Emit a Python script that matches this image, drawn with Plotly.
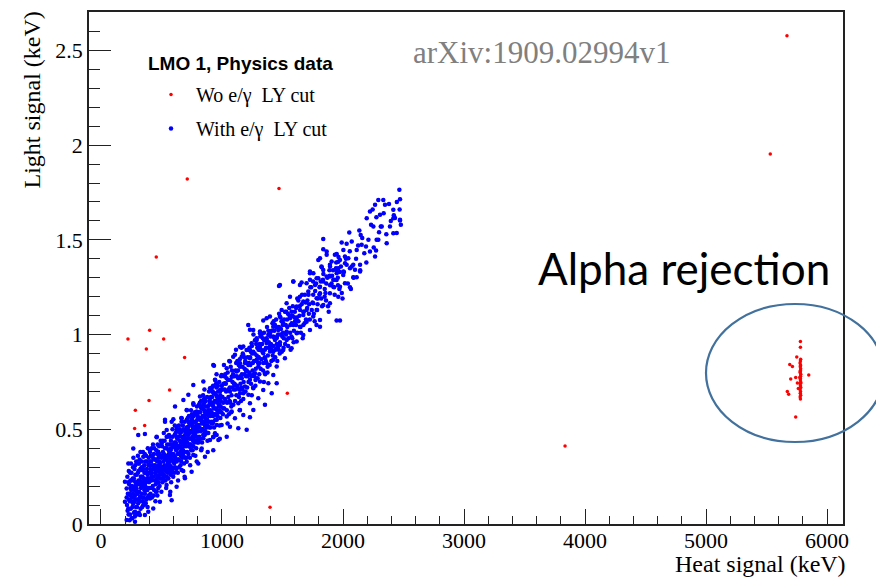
import plotly.graph_objects as go

# ---------------- data (keV) ----------------
# red-only outliers (events removed by the e/gamma LY cut)
red_out_x = [713, 1471, 457, 223, 402, 518, 375, 691, 567, 397, 284, 278, 361, 1540, 1358, 1397,
             5669, 5531, 3835]
red_out_y = [1.822, 1.771, 1.409, 0.977, 1.023, 0.977, 0.924, 0.879, 0.708, 0.652, 0.600, 0.504,
             0.520, 0.690, 0.629, 0.088, 2.578, 1.953, 0.412]

# alpha cluster near 5.8 MeV
alpha_x = [5780, 5778, 5782, 5779, 5781, 5777, 5783, 5780, 5778, 5782, 5780, 5779, 5781, 5783,
           5778, 5780, 5782, 5779, 5781, 5777, 5780, 5782, 5784, 5776, 5779, 5781,
           5780, 5780, 5750, 5692, 5714, 5741, 5700, 5849, 5672, 5683, 5741, 5755, 5763]
alpha_y = [0.66, 0.67, 0.68, 0.69, 0.70, 0.71, 0.72, 0.73, 0.74, 0.75, 0.76, 0.77, 0.78, 0.79,
           0.80, 0.81, 0.82, 0.83, 0.84, 0.85, 0.86, 0.87, 0.745, 0.775, 0.805, 0.835,
           0.963, 0.933, 0.882, 0.842, 0.831, 0.773, 0.766, 0.787, 0.699, 0.685, 0.565, 0.745, 0.715]

# e/gamma band (passes the LY cut), read region by region
band_low = [(529,0.54),(584,0.54),(666,0.54),(763,0.54),(846,0.54),(928,0.54),(625,0.514),(722,0.514),
    (804,0.523),(887,0.514),(956,0.523),(543,0.496),(666,0.487),(763,0.487),(859,0.479),(942,0.479),
    (308,0.47),(363,0.475),(460,0.461),(570,0.461),(708,0.452),(804,0.443),(901,0.443),(970,0.443),
    (267,0.399),(501,0.426),(625,0.417),(735,0.408),(832,0.399),(928,0.39),(405,0.39),(473,0.382),
    (570,0.382),(666,0.373),(763,0.364),(859,0.355),(350,0.355),(432,0.346),(529,0.346),(611,0.338),
    (708,0.329),(804,0.32),(226,0.32),(308,0.32),(391,0.311),(487,0.302),(570,0.294),(666,0.285),
    (749,0.276),(336,0.285),(418,0.267),(515,0.258),(597,0.25),(694,0.241),(198,0.223),(267,0.232),
    (363,0.232),(460,0.223),(542,0.206),(625,0.197),(570,0.153),(584,0.126),(212,0.188),(294,0.188),
    (377,0.179),(460,0.171),(239,0.153),(322,0.144),(405,0.135),(487,0.118),(198,0.118),(267,0.109),
    (350,0.1),(432,0.082),(391,0.065),(226,0.082),(281,0.065),(322,0.047),(253,0.03),(212,0.021),
    (281,0.012),(363,0.047)]

band_mid = [(1231,1.025),(1314,1.007),(1383,0.999),(1287,0.972),(1369,0.955),(1438,0.972),(1176,0.937),
    (1231,0.919),(1314,0.919),(1397,0.911),(1452,0.928),(1107,0.893),(1163,0.884),(1231,0.875),
    (1287,0.867),(1355,0.875),(1424,0.867),(1066,0.858),(1149,0.849),(1218,0.84),(1301,0.831),
    (1383,0.84),(1452,0.831),(928,0.84),(1039,0.822),(1121,0.805),(1204,0.805),(1273,0.796),
    (1355,0.796),(1424,0.787),(997,0.787),(1080,0.778),(1163,0.77),(1231,0.761),(1314,0.752),
    (1383,0.743),(1452,0.743),(846,0.752),(942,0.761),(1025,0.743),(1107,0.734),(1190,0.726),
    (1259,0.717),(1341,0.708),(1411,0.69),(763,0.734),(901,0.717),(983,0.708),(1066,0.699),
    (1149,0.69),(1218,0.682),(1300,0.664),(1355,0.629),(722,0.682),(818,0.673),(901,0.664),
    (983,0.655),(1066,0.646),(1135,0.638),(1231,0.638),(1259,0.602),(1149,0.602),(681,0.655),
    (763,0.638),(846,0.629),(928,0.62),(1011,0.611),(1080,0.594),(1176,0.576),(1231,0.564),
    (612,0.62),(708,0.602),(791,0.594),(873,0.585),(956,0.576),(1039,0.567),(1107,0.558),(529,0.55),
    (598,0.553),(667,0.558),(749,0.55),(832,0.541),(915,0.532),(997,0.523),(1066,0.514),(460,0.458),
    (543,0.461),(625,0.497),(708,0.497),(791,0.488),(873,0.479),(956,0.47),(1039,0.461),(1135,0.506),
    (1204,0.497),(680,0.453),(763,0.458),(846,0.453),(928,0.458),(934,0.835)]

band_upper = [(1865,1.438),(1810,1.403),(1933,1.421),(1961,1.385),(2016,1.412),(2030,1.368),(1892,1.368),
    (1837,1.341),(1947,1.341),(2002,1.315),(1892,1.306),(1727,1.324),(1782,1.297),(1837,1.28),
    (1947,1.288),(2016,1.271),(1920,1.253),(1810,1.253),(1699,1.271),(1644,1.262),(1589,1.28),
    (1479,1.262),(1713,1.227),(1810,1.218),(1892,1.218),(1961,1.2),(1782,1.192),(1644,1.2),(1562,1.2),
    (1672,1.174),(1754,1.165),(1837,1.156),(1892,1.165),(1534,1.165),(1617,1.148),(1699,1.13),
    (1782,1.13),(1575,1.121),(1493,1.13),(1672,1.104),(1754,1.095),(1810,1.077),(1947,1.074),
    (1975,1.074),(1479,1.095),(1562,1.086),(1617,1.077),(1699,1.068),(1396,1.095),(1369,1.086),
    (1506,1.06),(1589,1.051),(1644,1.042),(1727,1.024),(1810,1.042),(1424,1.042),(1341,1.074),
    (1465,1.024),(1534,1.016),(1617,1.007),(1672,0.998),(1396,1.007),(1314,1.016),(1258,1.024),
    (1217,1.051),(1286,0.98),(1369,0.98),(1451,0.98),(1534,0.972),(1617,0.963),(1575,0.928),
    (1245,0.954),(1148,0.936),(1203,0.919),(1314,0.936),(1396,0.936),(1479,0.945),(1506,0.919),
    (1424,0.91),(1341,0.901),(1258,0.91),(1176,0.892),(1093,0.883),(1520,0.875)]

band_top = [(2466,1.764),(2471,1.715),(2292,1.711),(2333,1.711),(2265,1.685),(2347,1.685),(2223,1.65),
    (2196,1.614),(2306,1.632),(2416,1.614),(2471,1.602),(2251,1.57),(2320,1.57),(2388,1.57),
    (2416,1.535),(2361,1.482),(2292,1.5),(2146,1.526),(2052,1.539),(1837,1.504),(1837,1.451),
    (1989,1.486),(2072,1.491),(2154,1.474),(2190,1.465),(2273,1.444),(2223,1.438),(2265,1.412),
    (2113,1.447),(2003,1.447),(1948,1.426),(1865,1.421),(1796,1.394),(1906,1.386),(1975,1.394),
    (2044,1.403),(2085,1.368),(2141,1.368),(2099,1.342),(2141,1.333),(2017,1.377),(1961,1.35),
    (1893,1.359),(1824,1.356),(1755,1.324),(1727,1.333),(1948,1.324),(2003,1.333),(2058,1.35),
    (2113,1.303),(2085,1.303),(1796,1.297),(1865,1.306),(1920,1.289),(1590,1.28),(1658,1.275),
    (1727,1.289),(1769,1.262),(1975,1.253),(2058,1.25),(2444,1.536),(2430,1.615),(2471,1.606),
    (2416,1.659),(2278,1.5),(1471,1.257)]

band_core_a = [(215,0.10),(222,0.16),(228,0.05),(233,0.21),(238,0.12),(241,0.27),(246,0.08),(250,0.18),
    (255,0.14),(258,0.03),(262,0.24),(266,0.11),(270,0.19),(273,0.06),(277,0.29),(281,0.15),(285,0.22),
    (289,0.09),(292,0.17),(296,0.26),(299,0.13),(218,0.25),(231,0.13),(244,0.19),(253,0.23),(264,0.16),
    (275,0.12),(287,0.20),(297,0.05),(236,0.02),(248,0.32),(268,0.35),(283,0.31),
    (303,0.21),(307,0.11),(311,0.28),(315,0.17),(319,0.34),(323,0.23),(327,0.08),(331,0.19),(335,0.30),
    (339,0.14),(343,0.25),(347,0.38),(351,0.20),(355,0.10),(359,0.27),(363,0.16),(367,0.33),(371,0.22),
    (375,0.13),(379,0.29),(383,0.18),(387,0.40),(391,0.24),(395,0.15),(399,0.31),(305,0.36),(313,0.06),
    (325,0.29),(337,0.20),(349,0.14),(361,0.21),(373,0.36),(385,0.09),(397,0.22),(309,0.23),(333,0.25),
    (357,0.31),(381,0.24),(341,0.09),(365,0.27),
    (403,0.19),(408,0.29),(412,0.36),(417,0.23),(421,0.14),(426,0.31),(430,0.42),(434,0.25),(439,0.18),
    (443,0.34),(448,0.27),(452,0.21),(457,0.39),(461,0.30),(466,0.15),(470,0.25),(475,0.35),(479,0.28),
    (484,0.20),(488,0.32),(493,0.44),(497,0.24),(406,0.33),(415,0.28),(428,0.20),(437,0.37),(446,0.31),
    (455,0.26),(464,0.33),(473,0.19),(482,0.37),(491,0.29),(499,0.17),(419,0.40),(450,0.12),(468,0.42),
    (486,0.26),(410,0.24),(441,0.29),(477,0.31)]

band_core_b = [(503,0.30),(508,0.22),(512,0.38),(517,0.33),(521,0.26),(526,0.44),(530,0.35),(535,0.28),
    (539,0.19),(544,0.40),(548,0.31),(553,0.36),(557,0.24),(562,0.47),(566,0.33),(571,0.28),(575,0.39),
    (580,0.22),(584,0.34),(589,0.42),(593,0.29),(598,0.37),(505,0.41),(514,0.29),(523,0.35),(533,0.23),
    (542,0.34),(551,0.27),(560,0.39),(569,0.31),(578,0.44),(587,0.27),(596,0.33),(519,0.48),(546,0.46),
    (573,0.17),(591,0.50),(528,0.30),(555,0.32),(582,0.37),
    (603,0.36),(608,0.43),(612,0.30),(617,0.48),(621,0.39),(626,0.33),(630,0.45),(635,0.27),(639,0.41),
    (644,0.52),(648,0.37),(653,0.44),(657,0.31),(662,0.40),(666,0.49),(671,0.35),(675,0.42),(680,0.28),
    (684,0.46),(689,0.38),(693,0.54),(698,0.43),(606,0.27),(615,0.40),(624,0.46),(633,0.37),(642,0.34),
    (651,0.50),(660,0.36),(669,0.43),(678,0.39),(687,0.32),(696,0.47),(610,0.52),(637,0.23),(664,0.56),
    (691,0.25),(628,0.41),(655,0.38),(682,0.50),
    (703,0.44),(708,0.51),(712,0.38),(717,0.56),(721,0.47),(726,0.41),(730,0.53),(735,0.35),(739,0.49),
    (744,0.60),(748,0.45),(753,0.52),(757,0.39),(762,0.48),(766,0.57),(771,0.43),(775,0.50),(780,0.36),
    (784,0.54),(789,0.46),(793,0.62),(798,0.51),(706,0.35),(715,0.48),(724,0.54),(733,0.45),(742,0.42),
    (751,0.58),(760,0.44),(769,0.51),(778,0.47),(787,0.40),(796,0.55),(710,0.60),(737,0.31),(764,0.63),
    (791,0.33),(728,0.49),(755,0.46),(782,0.58)]

band_core_c = [(803,0.52),(808,0.59),(812,0.46),(817,0.64),(821,0.55),(826,0.49),(830,0.61),(835,0.43),
    (839,0.57),(844,0.68),(848,0.53),(853,0.60),(857,0.47),(862,0.56),(866,0.65),(871,0.51),(875,0.58),
    (880,0.44),(884,0.62),(889,0.54),(893,0.70),(898,0.59),(806,0.43),(815,0.56),(824,0.62),(833,0.53),
    (842,0.50),(851,0.66),(860,0.52),(869,0.59),(878,0.55),(887,0.48),(896,0.63),(828,0.39),(855,0.71),
    (882,0.38),
    (903,0.60),(908,0.67),(912,0.54),(917,0.72),(921,0.63),(926,0.57),(930,0.69),(935,0.51),(939,0.65),
    (944,0.76),(948,0.61),(953,0.68),(957,0.55),(962,0.64),(966,0.73),(971,0.59),(975,0.66),(980,0.52),
    (984,0.70),(989,0.62),(993,0.78),(998,0.67),(906,0.51),(915,0.64),(924,0.70),(933,0.61),(942,0.58),
    (951,0.74),(960,0.60),(969,0.67),(978,0.63),(987,0.56),(996,0.71),(928,0.46),(955,0.79),(982,0.45),
    (1004,0.67),(1012,0.74),(1019,0.61),(1027,0.79),(1034,0.70),(1042,0.64),(1049,0.76),(1057,0.58),
    (1064,0.72),(1072,0.83),(1079,0.68),(1087,0.75),(1094,0.63),(1008,0.58),(1023,0.71),(1038,0.77),
    (1053,0.67),(1068,0.64),(1083,0.81),(1098,0.71),(1016,0.84),(1046,0.53),(1076,0.59),(1030,0.65),
    (1060,0.86),(1090,0.78),
    (1104,0.74),(1112,0.81),(1119,0.68),(1127,0.86),(1134,0.77),(1142,0.71),(1149,0.83),(1157,0.65),
    (1164,0.79),(1172,0.90),(1179,0.75),(1187,0.82),(1194,0.70),(1108,0.65),(1123,0.78),(1138,0.84),
    (1153,0.74),(1168,0.71),(1183,0.88),(1198,0.78),(1116,0.92),(1146,0.60),(1176,0.66),(1130,0.72),
    (1160,0.93),(1190,0.85)]

band_core_d = [(1204,0.81),(1212,0.88),(1219,0.75),(1227,0.93),(1234,0.84),(1242,0.78),(1249,0.90),
    (1257,0.72),(1264,0.86),(1272,0.97),(1279,0.82),(1287,0.89),(1294,0.77),(1208,0.72),(1223,0.85),
    (1238,0.91),(1253,0.81),(1268,0.78),(1283,0.95),(1298,0.85),(1246,0.68),(1276,0.73),(1230,0.79),
    (1260,1.00),
    (1304,0.88),(1312,0.95),(1319,0.82),(1327,1.00),(1334,0.91),(1342,0.85),(1349,0.97),(1357,0.79),
    (1364,0.93),(1372,1.04),(1379,0.89),(1387,0.96),(1394,0.84),(1308,0.79),(1323,0.92),(1338,0.98),
    (1353,0.88),(1368,0.85),(1383,1.02),(1398,0.92),(1346,0.75),(1376,0.80),
    (1404,0.95),(1412,1.02),(1419,0.89),(1427,1.07),(1434,0.98),(1442,0.92),(1449,1.04),(1457,0.86),
    (1464,1.00),(1472,1.11),(1479,0.96),(1487,1.03),(1494,0.91),(1408,0.86),(1423,0.99),(1438,1.05),
    (1453,0.95),(1468,0.92),(1483,1.09),(1498,0.99),
    (1504,1.01),(1513,1.08),(1522,0.95),(1531,1.12),(1540,1.04),(1549,0.98),(1558,1.10),(1567,0.92),
    (1576,1.06),(1585,1.15),(1594,1.02),(1509,0.93),(1527,1.05),(1545,1.11),(1563,1.01),(1581,0.98),
    (1599,1.09),
    (1604,1.07),(1613,1.14),(1622,1.01),(1631,1.18),(1640,1.10),(1649,1.04),(1658,1.16),(1667,0.98),
    (1676,1.12),(1685,1.21),(1694,1.08),(1618,1.09),(1645,1.13),(1672,1.05),
    (1704,1.14),(1715,1.21),(1726,1.08),(1737,1.25),(1748,1.17),(1759,1.11),(1770,1.23),(1781,1.05),
    (1792,1.19),(1720,1.16),(1753,1.28),(1786,1.13),
    (1805,1.21),(1816,1.28),(1827,1.15),(1838,1.32),(1849,1.24),(1860,1.18),(1871,1.30),(1882,1.12),
    (1893,1.26),(1822,1.36),(1855,1.22),(1888,1.34),
    (1905,1.27),(1918,1.34),(1931,1.21),(1944,1.38),(1957,1.30),(1970,1.24),(1983,1.36),(1996,1.19),
    (1925,1.29),(1963,1.41),
    (2008,1.33),(2024,1.40),(2040,1.27),(2056,1.44),(2072,1.36),(2088,1.30),(2030,1.48),(2065,1.24),
    (2108,1.40),(2125,1.47),(2142,1.34),(2159,1.51),(2176,1.43),(2193,1.38),(2135,1.55),
    (2210,1.50),(2232,1.58),(2254,1.46),(2276,1.62),(2298,1.54),(2245,1.66),
    (2312,1.57),(2336,1.64),(2358,1.53),(2380,1.69),(2395,1.60),
    (2420,1.63),(2445,1.70),(2468,1.66),(2478,1.58)]

band_core_e = [(212,0.14),(220,0.07),(226,0.22),(230,0.28),(235,0.16),(240,0.05),(243,0.23),(249,0.12),
    (252,0.27),(257,0.20),(260,0.09),(265,0.30),(269,0.14),(272,0.24),(276,0.18),(280,0.04),(284,0.26),
    (288,0.13),(291,0.33),(294,0.21),(298,0.09),
    (302,0.16),(306,0.27),(310,0.13),(314,0.32),(318,0.21),(322,0.12),(326,0.38),(329,0.25),(334,0.16),
    (338,0.33),(342,0.22),(346,0.12),(350,0.29),(354,0.24),(358,0.18),(362,0.37),(366,0.20),(370,0.11),
    (374,0.27),(378,0.33),(382,0.14),(386,0.26),(390,0.19),(394,0.35),(398,0.27),
    (401,0.23),(405,0.38),(409,0.16),(414,0.33),(418,0.25),(423,0.19),(427,0.36),(432,0.29),(436,0.15),
    (440,0.40),(445,0.23),(449,0.34),(454,0.17),(458,0.28),(463,0.24),(467,0.37),(471,0.30),(476,0.22),
    (480,0.41),(485,0.33),(489,0.24),(494,0.36),(498,0.29),
    (501,0.35),(506,0.27),(510,0.44),(515,0.24),(520,0.37),(524,0.31),(529,0.40),(533,0.29),(538,0.36),
    (543,0.25),(547,0.42),(552,0.33),(556,0.29),(561,0.37),(565,0.42),(570,0.35),(574,0.26),(579,0.40),
    (583,0.30),(588,0.36),(592,0.46),(597,0.41),
    (601,0.41),(605,0.32),(609,0.47),(614,0.35),(618,0.43),(623,0.29),(627,0.49),(632,0.40),(636,0.34),
    (641,0.46),(645,0.30),(650,0.41),(654,0.48),(659,0.43),(663,0.33),(668,0.46),(672,0.39),(677,0.52),
    (681,0.36),(686,0.44),(690,0.41),(695,0.35),(699,0.49)]

band_core_f = [(701,0.48),(705,0.41),(709,0.55),(714,0.43),(718,0.51),(723,0.37),(727,0.57),(732,0.48),
    (736,0.42),(741,0.53),(745,0.39),(750,0.49),(754,0.56),(759,0.51),(763,0.41),(768,0.54),(772,0.46),
    (777,0.59),(781,0.44),(786,0.52),(790,0.49),(795,0.43),(799,0.57),
    (801,0.56),(805,0.49),(810,0.63),(814,0.51),(819,0.59),(823,0.45),(827,0.65),(832,0.56),(836,0.50),
    (841,0.61),(845,0.47),(850,0.57),(854,0.64),(859,0.59),(863,0.49),(868,0.62),(872,0.54),(877,0.67),
    (881,0.52),(886,0.60),(890,0.57),(895,0.51),(899,0.65),
    (901,0.64),(905,0.57),(910,0.71),(914,0.59),(919,0.67),(923,0.53),(927,0.73),(932,0.64),(936,0.58),
    (941,0.69),(945,0.55),(950,0.65),(954,0.72),(959,0.67),(963,0.57),(968,0.70),(972,0.62),(977,0.75),
    (981,0.60),(986,0.68),(990,0.65),(995,0.59),(999,0.73),
    (1002,0.71),(1010,0.64),(1017,0.78),(1025,0.66),(1032,0.74),(1040,0.60),(1047,0.80),(1055,0.71),
    (1062,0.65),(1070,0.76),(1077,0.62),(1085,0.72),(1092,0.79),(1099,0.74),
    (1102,0.78),(1110,0.71),(1117,0.85),(1125,0.73),(1132,0.81),(1140,0.67),(1147,0.87),(1155,0.78),
    (1162,0.72),(1170,0.83),(1177,0.69),(1185,0.79),(1192,0.86),(1199,0.81),
    (1202,0.85),(1210,0.78),(1217,0.92),(1225,0.80),(1232,0.88),(1240,0.74),(1247,0.94),(1255,0.85),
    (1262,0.79),(1270,0.90),(1277,0.76),(1285,0.86),(1292,0.93),(1299,0.88),
    (1302,0.92),(1310,0.85),(1317,0.99),(1325,0.87),(1332,0.95),(1340,0.81),(1347,1.01),(1355,0.92),
    (1362,0.86),(1370,0.97),(1377,0.83),(1385,0.93),(1392,1.00),(1399,0.95),
    (1402,0.99),(1410,0.92),(1417,1.06),(1425,0.94),(1432,1.02),(1440,0.88),(1447,1.08),(1455,0.99),
    (1462,0.93),(1470,1.04),(1477,0.90),(1485,1.00),(1492,1.07),
    (1502,1.05),(1511,0.98),(1520,1.12),(1529,1.00),(1538,1.08),(1547,0.94),(1556,1.14),(1565,1.05),
    (1574,0.99),(1583,1.10),(1592,0.96),
    (1602,1.12),(1612,1.05),(1622,1.19),(1632,1.07),(1642,1.15),(1652,1.01),(1662,1.21),(1672,1.12),
    (1682,1.06),(1692,1.17),
    (1706,1.18),(1718,1.11),(1730,1.25),(1742,1.13),(1754,1.21),(1766,1.07),(1778,1.27),(1790,1.16),
    (1806,1.25),(1820,1.19),(1834,1.29),(1848,1.20),(1862,1.27),(1876,1.15),(1890,1.31),
    (1910,1.31),(1926,1.25),(1942,1.35),(1958,1.26),(1974,1.33),(1990,1.22)]

band = (band_low + band_mid + band_upper + band_top + band_core_a + band_core_b + band_core_c
        + band_core_d + band_core_e + band_core_f)
blue_x = [p[0] for p in band]
blue_y = [p[1] for p in band]

# all events (no cut) = band + removed events
red_x = blue_x + red_out_x + alpha_x
red_y = blue_y + red_out_y + alpha_y

x_ticks = [0, 1000, 2000, 3000, 4000, 5000, 6000]
y_ticks = [0, 0.5, 1, 1.5, 2, 2.5]

# ---------------- figure ----------------
# the page body adds an 8 px offset; figure is sized so the plot frame lands at
# screen x 89..843, y 12..524
OFF = 8
W, H = 884 - OFF, 578 - OFF
L, R, T, B = 89 - OFF, 41, 12 - OFF, 54
pw, ph = W - L - R, H - T - B

def px(xs):
    return (xs - OFF - L) / pw

def py(ys):
    return (H - B - (ys - OFF)) / ph

serif = "Liberation Serif, Times New Roman, serif"

fig = go.Figure()
fig.add_trace(go.Scatter(
    x=red_x, y=red_y, mode="markers", name="Wo e/γ  LY cut", legendgroup="a",
    marker=dict(color="#ff0000", size=3.5, line=dict(width=0)),
))
fig.add_trace(go.Scatter(
    x=blue_x, y=blue_y, mode="markers", name="With e/γ  LY cut", legendgroup="b",
    marker=dict(color="#0000ff", size=4.5, line=dict(width=0)),
))

axis_common = dict(
    showline=True, linecolor="#222", linewidth=1.5, mirror=True,
    showgrid=False, zeroline=False, ticks="inside", tickcolor="#222", tickwidth=1.3,
    tickfont=dict(family=serif, size=22, color="black"),
)
fig.update_xaxes(range=[-99, 6132], tickvals=x_ticks, ticklen=15, ticklabelstandoff=-4,
                 minor=dict(dtick=200, tick0=0, ticks="inside", ticklen=8, tickcolor="#222",
                            tickwidth=1.3, showgrid=False),
                 **axis_common)
fig.update_yaxes(range=[0, 2.703], tickvals=y_ticks, ticklen=22,
                 minor=dict(dtick=0.1, tick0=0, ticks="inside", ticklen=11, tickcolor="#222",
                            tickwidth=1.3, showgrid=False),
                 **axis_common)

fig.update_layout(
    width=W, height=H, margin=dict(l=L, r=R, t=T, b=B, autoexpand=False),
    plot_bgcolor="white", paper_bgcolor="white",
    font=dict(family=serif, color="black"),
    legend=dict(
        x=px(146), y=py(75), xanchor="left", yanchor="top",
        bgcolor="rgba(0,0,0,0)", borderwidth=0,
        font=dict(family=serif, size=20, color="black"),
        tracegroupgap=5, itemwidth=40,
    ),
    annotations=[
        dict(text="<b>LMO 1, Physics data</b>", x=px(146), y=py(63), xref="paper", yref="paper",
             xanchor="left", yanchor="middle", showarrow=False,
             font=dict(family="Liberation Sans, Arial, sans-serif", size=19, color="black")),
        dict(text="Heat signal (keV)", x=px(848), y=py(564), xref="paper", yref="paper",
             xanchor="right", yanchor="middle", showarrow=False,
             font=dict(family=serif, size=24, color="black")),
        dict(text="Light signal (keV)", x=px(31), y=py(10), xref="paper", yref="paper",
             xanchor="center", yanchor="top", textangle=-90, showarrow=False,
             font=dict(family=serif, size=24, color="black")),
        dict(text="arXiv:1909.02994v1", x=px(541), y=py(52), xref="paper", yref="paper",
             xanchor="center", yanchor="middle", showarrow=False,
             font=dict(family=serif, size=31, color="#808080")),
        dict(text="Alpha rejection", x=px(536), y=py(268), xref="paper", yref="paper",
             xanchor="left", yanchor="middle", showarrow=False,
             font=dict(family="Lato, Open Sans, sans-serif", size=44, color="black")),
    ],
    shapes=[
        dict(type="circle", xref="paper", yref="paper",
             x0=px(706), x1=px(884), y0=py(442), y1=py(304),
             line=dict(color="#41719C", width=2.2), layer="above"),
    ],
)

fig.write_html("out.html")
